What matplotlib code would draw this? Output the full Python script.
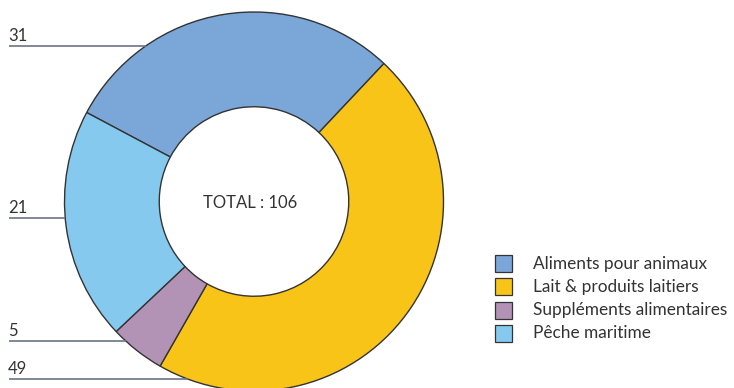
import numpy as np
import matplotlib
matplotlib.use("Agg")
import matplotlib.pyplot as plt
from matplotlib.patches import Rectangle

categories = ["Aliments pour animaux", "Lait & produits laitiers",
              "Suppléments alimentaires", "Pêche maritime"]
values = [31, 49, 5, 21]
colors = ["#7BA7D8", "#F9C418", "#B393B5", "#85CAEE"]
center_text = "TOTAL : 106"
# label leader y positions (pixels from top) for each category
label_y_px = [46, 379, 341, 218]

W, H = 734, 388
plt.rcParams['font.family'] = ['Lato', 'DejaVu Sans']
fig = plt.figure(figsize=(W / 100, H / 100), dpi=100)
ax = fig.add_axes([0, 0, 1, 1])

cx, cy, R = 254, H - 201.5, 189.5
ax.pie(values, colors=colors, startangle=152, counterclock=False,
       center=(cx, cy), radius=R,
       wedgeprops=dict(width=R * 0.5, edgecolor="#333333", linewidth=1.0))
ax.set_xlim(0, W)
ax.set_ylim(0, H)
ax.set_aspect('equal')
ax.axis('off')

ax.text(cx - 4, cy - 1, center_text, ha='center', va='center',
        fontsize=12, color='#333333')

for v, ypx in zip(values, label_y_px):
    y = H - ypx
    dy = y - cy
    xend = cx - np.sqrt(max(R ** 2 - dy ** 2, 0))
    ax.plot([9, xend], [y, y], color='#6A7484', lw=1.2, solid_capstyle='butt')
    ax.text(8, y + 2, str(v), ha='left', va='bottom', fontsize=12, color='#333333')

# legend
for i, (c, lab) in enumerate(zip(colors, categories)):
    ytop = H - (255 + i * 23.3)
    ax.add_patch(Rectangle((495, ytop - 17), 17, 17, facecolor=c,
                           edgecolor='#333333', linewidth=0.9))
    ax.text(533, ytop - 8.5, lab, ha='left', va='center', fontsize=12.4,
            color='#333333')

fig.savefig("out.png", dpi=100)
